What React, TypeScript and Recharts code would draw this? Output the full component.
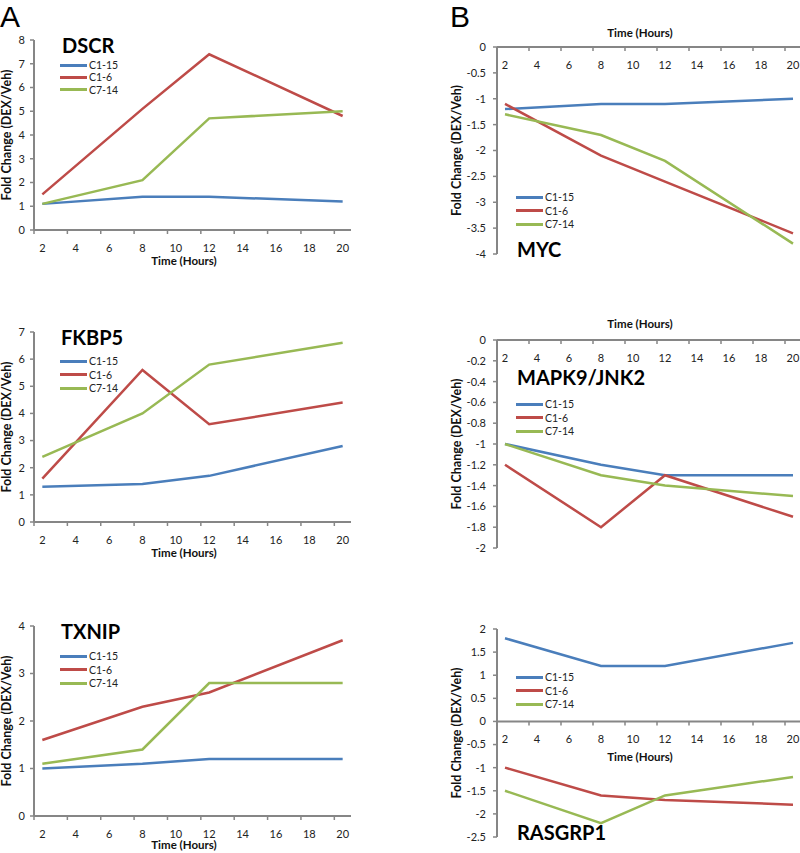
import { LineChart, Line, XAxis, YAxis, ReferenceLine, ReferenceDot } from 'recharts';

// time points (hours) shared by every panel
const hours = [2, 8, 12, 20];
const seriesNames = ['C1-15', 'C1-6', 'C7-14'];
const seriesColors = ['#4A7EBB', '#BE4B48', '#98B954'];

const hourLabels = [2, 4, 6, 8, 10, 12, 14, 16, 18, 20];
const hourMarks = [1.5, 3.5, 5.5, 7.5, 9.5, 11.5, 13.5, 15.5, 17.5, 19.5];

const dscrC115 = [1.1, 1.4, 1.4, 1.2];
const dscrC16 = [1.5, 5.1, 7.4, 4.8];
const dscrC714 = [1.1, 2.1, 4.7, 5.0];
const dscrTicks = [0, 1, 2, 3, 4, 5, 6, 7, 8];

const fkbp5C115 = [1.3, 1.4, 1.7, 2.8];
const fkbp5C16 = [1.6, 5.6, 3.6, 4.4];
const fkbp5C714 = [2.4, 4.0, 5.8, 6.6];
const fkbp5Ticks = [0, 1, 2, 3, 4, 5, 6, 7];

const txnipC115 = [1.0, 1.1, 1.2, 1.2];
const txnipC16 = [1.6, 2.3, 2.6, 3.7];
const txnipC714 = [1.1, 1.4, 2.8, 2.8];
const txnipTicks = [0, 1, 2, 3, 4];

const mycC115 = [-1.2, -1.1, -1.1, -1.0];
const mycC16 = [-1.1, -2.1, -2.6, -3.6];
const mycC714 = [-1.3, -1.7, -2.2, -3.8];
const mycTicks = [0, -0.5, -1, -1.5, -2, -2.5, -3, -3.5, -4];

const mapk9C115 = [-1.0, -1.2, -1.3, -1.3];
const mapk9C16 = [-1.2, -1.8, -1.3, -1.7];
const mapk9C714 = [-1.0, -1.3, -1.4, -1.5];
const mapk9Ticks = [0, -0.2, -0.4, -0.6, -0.8, -1, -1.2, -1.4, -1.6, -1.8, -2];

const rasgrp1C115 = [1.8, 1.2, 1.2, 1.7];
const rasgrp1C16 = [-1.0, -1.6, -1.7, -1.8];
const rasgrp1C714 = [-1.5, -2.2, -1.6, -1.2];
const rasgrp1Ticks = [2, 1.5, 1, 0.5, 0, -0.5, -1, -1.5, -2, -2.5];

const axisGray = '#868686';
const font = 'Lato, "Open Sans", sans-serif';

const panels = [
  { gene: 'DSCR', values: [dscrC115, dscrC16, dscrC714], ticks: dscrTicks,
    left: 0, top: 0, width: 400, height: 280, mt: 40, mb: 50, mr: 49, yw: 34, yOff: 7,
    titleX: 62, titleY: 35, legX: 60, legY: 65, legStep: 12.3, timeX: 184, timeY: 261 },
  { gene: 'FKBP5', values: [fkbp5C115, fkbp5C16, fkbp5C714], ticks: fkbp5Ticks,
    left: 0, top: 280, width: 400, height: 290, mt: 52, mb: 48, mr: 49, yw: 34, yOff: 7,
    titleX: 61, titleY: 327, legX: 60, legY: 361, legStep: 13.5, timeX: 184, timeY: 553 },
  { gene: 'TXNIP', values: [txnipC115, txnipC16, txnipC714], ticks: txnipTicks,
    left: 0, top: 560, width: 400, height: 293, mt: 66, mb: 37, mr: 49, yw: 34, yOff: 7,
    titleX: 61, titleY: 621, legX: 60, legY: 656, legStep: 13.5, timeX: 184, timeY: 845 },
  { gene: 'MYC', values: [mycC115, mycC16, mycC714], ticks: mycTicks,
    left: 400, top: 0, width: 401, height: 280, mt: 47, mb: 26, mr: 0, yw: 97, yOff: 57,
    titleX: 517, titleY: 239, legX: 516, legY: 197, legStep: 13.5, timeX: 640, timeY: 33 },
  { gene: 'MAPK9/JNK2', values: [mapk9C115, mapk9C16, mapk9C714], ticks: mapk9Ticks,
    left: 400, top: 280, width: 401, height: 290, mt: 60, mb: 22, mr: 0, yw: 97, yOff: 57,
    titleX: 517, titleY: 367, legX: 516, legY: 404, legStep: 13.5, timeX: 640, timeY: 324 },
  { gene: 'RASGRP1', values: [rasgrp1C115, rasgrp1C16, rasgrp1C714], ticks: rasgrp1Ticks,
    left: 400, top: 560, width: 401, height: 293, mt: 69, mb: 16, mr: 0, yw: 97, yOff: 57,
    titleX: 517, titleY: 822, legX: 516, legY: 677, legStep: 13.5, timeX: 640, timeY: 757 },
];

function Panel({ p }: { p: any }) {
  const rows = hours.map((t, i) => ({ t, s0: p.values[0][i], s1: p.values[1][i], s2: p.values[2][i] }));
  const ticks: number[] = p.ticks;
  const domain = [Math.min(...ticks), Math.max(...ticks)];

  return (
    <>
      <div style={{ position: 'absolute', left: p.left, top: p.top }}>
        <LineChart width={p.width} height={p.height} data={rows}
          margin={{ top: p.mt, right: p.mr, bottom: p.mb, left: 0 }}>
          <XAxis type="number" dataKey="t" domain={[1.5, 20.5]} hide allowDataOverflow />
          <YAxis
            type="number"
            domain={domain}
            ticks={ticks}
            interval={0}
            width={p.yw}
            allowDataOverflow
            axisLine={{ stroke: axisGray, strokeWidth: 2 }}
            tickLine={{ stroke: axisGray, strokeWidth: 1.5 }}
            tickSize={4}
            tickMargin={p.left > 0 ? 7 : 5}
            tick={{ fill: '#222', fontSize: 11, fontFamily: font }}
            label={{
              value: 'Fold Change (DEX/Veh)', angle: -90, position: 'insideLeft', offset: p.yOff,
              style: { textAnchor: 'middle', fontSize: 12.5, fontWeight: 700, fontFamily: font, fill: '#111' },
            }}
          />
          <ReferenceLine y={0} stroke={axisGray} strokeWidth={2} />
          {hourMarks.map((m) => (
            <ReferenceDot key={'m' + m} x={m} y={0} r={0}
              shape={(s: any) => <line x1={s.cx} x2={s.cx} y1={s.cy} y2={s.cy + 4} stroke={axisGray} strokeWidth={1.5} />} />
          ))}
          {hourLabels.map((h) => (
            <ReferenceDot key={'l' + h} x={h} y={0} r={0}
              shape={(s: any) => (
                <text x={s.cx} y={s.cy + 17} textAnchor="middle" dominantBaseline="central"
                  fontSize={11} fontFamily={font} fill="#222">{h}</text>
              )} />
          ))}
          {seriesNames.map((name, i) => (
            <Line key={name} type="linear" dataKey={'s' + i} name={name} stroke={seriesColors[i]}
              strokeWidth={2.5} dot={false} isAnimationActive={false} />
          ))}
        </LineChart>
      </div>
      <div style={{ position: 'absolute', left: p.titleX, top: p.titleY, fontFamily: font, fontWeight: 700,
        fontSize: 20, lineHeight: '20px', color: '#000', whiteSpace: 'nowrap' }}>{p.gene}</div>
      {seriesNames.map((name, i) => (
        <div key={name} style={{ position: 'absolute', left: p.legX, top: p.legY + i * p.legStep - 7,
          height: 14, display: 'flex', alignItems: 'center', fontFamily: font, fontSize: 10.5, color: '#222' }}>
          <div style={{ width: 27, height: 3, background: seriesColors[i], marginRight: 2 }} />
          <span>{name}</span>
        </div>
      ))}
      <div style={{ position: 'absolute', left: p.timeX - 60, width: 120, top: p.timeY - 7, textAlign: 'center',
        fontFamily: font, fontWeight: 700, fontSize: 11.5, lineHeight: '14px', color: '#111' }}>Time (Hours)</div>
    </>
  );
}

export default function App() {
  return (
    <div style={{ position: 'absolute', left: 0, top: 0, width: 800, height: 853, overflow: 'hidden', background: '#fff' }}>
      <div style={{ position: 'absolute', left: 0, top: 0, fontFamily: '"Liberation Sans", Arial, sans-serif', fontSize: 30 }}>A</div>
      <div style={{ position: 'absolute', left: 450, top: 0, fontFamily: '"Liberation Sans", Arial, sans-serif', fontSize: 30 }}>B</div>
      {panels.map((p) => (
        <Panel key={p.gene} p={p} />
      ))}
    </div>
  );
}
